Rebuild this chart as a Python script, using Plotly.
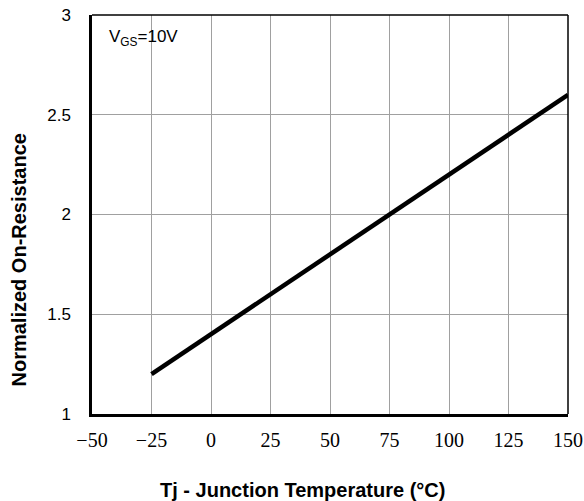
import plotly.graph_objects as go

temps = [-25, 150]
rdson = [1.2, 2.6]
x_ticks = [-50, -25, 0, 25, 50, 75, 100, 125, 150]
y_ticks = [1, 1.5, 2, 2.5, 3]
y_tick_text = ["1", "1.5", "2", "2.5", "3"]

W, H = 584, 501
# plot area in screen pixels
SX0, SX1, SY0, SY1 = 92, 568, 15, 414
L, T = SX0, SY0
pw, ph = SX1 - SX0, SY1 - SY0
R, B = W - L - pw, H - T - ph

def px(xs):
    return (xs - SX0) / pw

def py(ys):
    return (SY1 - ys) / ph

fig = go.Figure()
fig.add_trace(go.Scatter(x=temps, y=rdson, mode="lines",
                         line=dict(color="black", width=4.5), showlegend=False))

fig.update_layout(
    width=W, height=H,
    margin=dict(l=L, r=R, t=T, b=B),
    paper_bgcolor="white", plot_bgcolor="white",
    xaxis=dict(range=[-50, 150], tickvals=x_ticks,
               ticktext=[("\u2212" + str(-v)) if v < 0 else str(v) for v in x_ticks],
               showgrid=True, gridcolor="#a0a0a0", gridwidth=1.3,
               showline=True, linecolor="black", linewidth=2.5,
               zeroline=False, ticks="outside", ticklen=6, tickcolor="white",
               automargin=False, ticklabeloverflow="allow",
               tickfont=dict(family="Liberation Serif, serif", size=20, color="black")),
    yaxis=dict(range=[1, 3], tickvals=y_ticks, ticktext=y_tick_text,
               showgrid=True, gridcolor="#a0a0a0", gridwidth=1.3,
               showline=True, linecolor="black", linewidth=2.5,
               zeroline=False, ticks="outside", ticklen=15, tickcolor="white",
               automargin=False, ticklabeloverflow="allow",
               tickfont=dict(family="Liberation Sans, Arial", size=17, color="black")),
    annotations=[
        dict(xref="paper", yref="paper", x=px(107), y=py(38),
             xanchor="left", yanchor="middle", showarrow=False,
             text="V<sub>GS</sub>=10V",
             font=dict(family="Liberation Sans, Arial", size=17, color="black")),
        dict(xref="paper", yref="paper", x=px(302.5), y=py(490),
             xanchor="center", yanchor="middle", showarrow=False,
             text="<b>Tj - Junction Temperature (°C)</b>",
             font=dict(family="Liberation Sans, Arial", size=20, color="black")),
        dict(xref="paper", yref="paper", x=px(18.5), y=py(260),
             xanchor="center", yanchor="middle", showarrow=False, textangle=-90,
             text="<b>Normalized On-Resistance</b>",
             font=dict(family="Liberation Sans, Arial", size=20, color="black")),
    ],
    shapes=[
        dict(type="line", xref="paper", yref="paper", x0=0, x1=1, y0=1, y1=1,
             line=dict(color="black", width=1.5)),
        dict(type="line", xref="paper", yref="paper", x0=1, x1=1, y0=0, y1=1,
             line=dict(color="black", width=1.5)),
    ],
)

fig.write_html("out.html", config={"displayModeBar": False},
               post_script="document.body.style.margin='0';document.body.style.overflow='hidden';")
